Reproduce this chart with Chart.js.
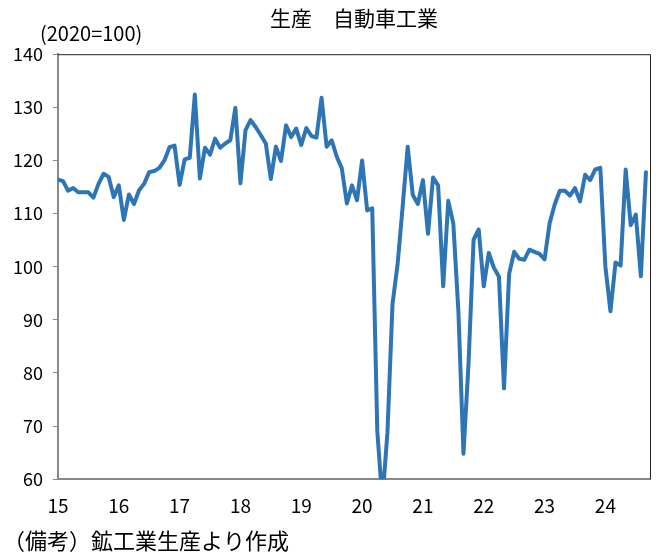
<!DOCTYPE html>
<html>
<head>
<meta charset="utf-8">
<script src="https://cdn.jsdelivr.net/npm/chart.js@4.4.1/dist/chart.umd.min.js"></script>
<style>
  body { margin: 0; background: #fff; }
</style>
</head>
<body>
<canvas id="myChart" width="661" height="554"></canvas>
<script>
// year tick labels (one per January)
const yearLabels = ["15", "16", "17", "18", "19", "20", "21", "22", "23", "24"];

// monthly index, 2020=100, Jan 2015 .. Sep 2024
const y2015 = [116.4, 116.1, 114.3, 114.8, 114.0, 114.0, 114.0, 113.0, 115.6, 117.5, 116.9, 113.1];
const y2016 = [115.3, 108.8, 113.6, 111.8, 114.4, 115.6, 117.8, 118.0, 118.6, 120.0, 122.5, 122.8];
const y2017 = [115.4, 120.2, 120.5, 132.4, 116.6, 122.4, 121.1, 124.1, 122.4, 123.2, 123.8, 129.9];
const y2018 = [115.7, 125.7, 127.6, 126.3, 124.8, 123.2, 116.5, 122.6, 119.9, 126.6, 124.4, 126.0];
const y2019 = [122.9, 126.1, 124.6, 124.3, 131.8, 122.6, 123.8, 120.7, 118.5, 111.9, 115.3, 112.5];
const y2020 = [120.0, 110.6, 111.0, 69.0, 56.0, 68.8, 93.0, 100.4, 111.3, 122.6, 113.5, 111.8];
const y2021 = [116.3, 106.2, 116.8, 115.3, 96.3, 112.4, 108.1, 91.6, 64.8, 81.8, 105.1, 107.0];
const y2022 = [96.3, 102.6, 99.8, 98.1, 77.1, 98.6, 102.8, 101.5, 101.3, 103.2, 102.8, 102.4];
const y2023 = [101.4, 108.2, 111.7, 114.3, 114.3, 113.4, 114.8, 112.3, 117.3, 116.3, 118.3, 118.6];
const y2024 = [100.0, 91.6, 100.8, 100.2, 118.3, 107.8, 109.8, 98.2, 117.8];

const production = [].concat(y2015, y2016, y2017, y2018, y2019, y2020, y2021, y2022, y2023, y2024);

const FONT = '"Noto Sans CJK JP", "Noto Sans", sans-serif';

// top/right frame of plot area plus unit label and note
const framePlugin = {
  id: "frame",
  afterDraw(chart) {
    const { ctx, chartArea } = chart;
    ctx.save();
    ctx.strokeStyle = "#222";
    ctx.lineWidth = 1;
    ctx.beginPath();
    ctx.moveTo(chartArea.left, chartArea.top + 0.5);
    ctx.lineTo(chartArea.right + 0.5, chartArea.top + 0.5);
    ctx.lineTo(chartArea.right + 0.5, chartArea.bottom);
    ctx.stroke();

    ctx.fillStyle = "#000";
    ctx.textBaseline = "middle";
    ctx.font = "20px " + FONT;
    ctx.fillText("(2020=100)", 40, 33);
    ctx.font = "22px " + FONT;
    ctx.fillText("（備考）鉱工業生産より作成", 3, 541);
    ctx.restore();
  },
};

const ctx = document.getElementById("myChart").getContext("2d");

var myChart = new Chart(ctx, {
  type: "line",
  data: {
    datasets: [
      {
        label: "生産 自動車工業",
        data: production.map((v, i) => ({ x: i, y: v })),
        borderColor: "#2E75B6",
        backgroundColor: "#2E75B6",
        borderWidth: 4,
        pointRadius: 0,
        tension: 0,
        borderJoinStyle: "round",
        borderCapStyle: "round",
        fill: false,
      },
    ],
  },
  options: {
    responsive: false,
    animation: false,
    layout: {
      padding: { left: 3, right: 11, top: 0, bottom: 22 },
    },
    plugins: {
      legend: { display: false },
      tooltip: { enabled: false },
      title: {
        display: true,
        text: "生産　自動車工業",
        fullSize: false,
        color: "#000",
        font: { family: FONT, size: 21, weight: "normal" },
        padding: { top: 5, bottom: 24 },
      },
    },
    scales: {
      x: {
        type: "linear",
        min: 0,
        max: 116.8,
        grid: { display: false, drawTicks: false },
        border: { display: true, color: "#898989", width: 2 },
        ticks: {
          stepSize: 12,
          includeBounds: false,
          autoSkip: false,
          maxRotation: 0,
          padding: 15,
          color: "#000",
          font: { family: FONT, size: 19 },
          callback: (v) => yearLabels[v / 12],
        },
      },
      y: {
        min: 60,
        max: 140,
        grid: {
          drawOnChartArea: false,
          drawTicks: true,
          tickLength: 5,
          color: "#898989",
          lineWidth: 1,
        },
        border: { display: true, color: "#898989", width: 2 },
        ticks: {
          stepSize: 10,
          padding: 10,
          color: "#000",
          font: { family: FONT, size: 18 },
        },
      },
    },
  },
  plugins: [framePlugin],
});
</script>
</body>
</html>
